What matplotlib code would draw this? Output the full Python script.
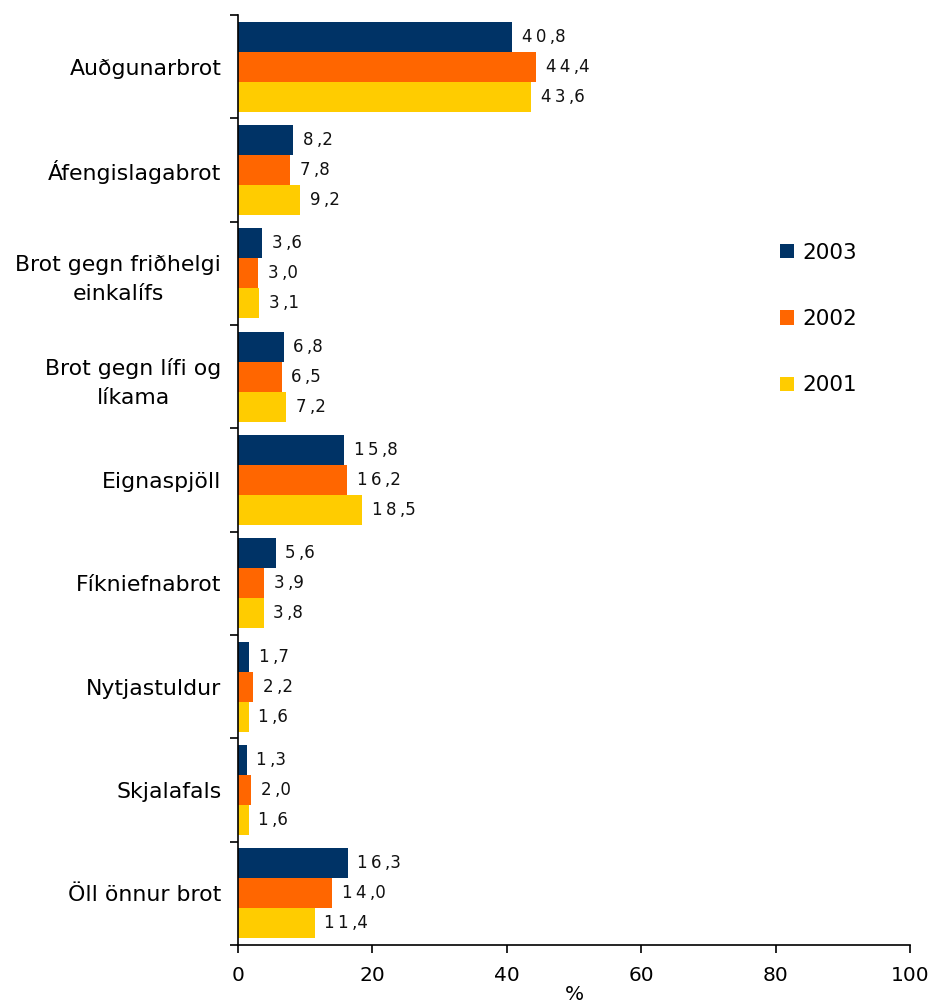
import matplotlib
matplotlib.use("Agg")
import matplotlib.pyplot as plt
from matplotlib.patches import Patch
import numpy as np

categories = ["Auðgunarbrot", "Áfengislagabrot", "Brot gegn friðhelgi\neinkalífs",
              "Brot gegn lífi og\nlíkama", "Eignaspjöll", "Fíkniefnabrot",
              "Nytjastuldur", "Skjalafals", "Öll önnur brot"]
years = ["2003", "2002", "2001"]
v2003 = [40.8, 8.2, 3.6, 6.8, 15.8, 5.6, 1.7, 1.3, 16.3]
v2002 = [44.4, 7.8, 3.0, 6.5, 16.2, 3.9, 2.2, 2.0, 14.0]
v2001 = [43.6, 9.2, 3.1, 7.2, 18.5, 3.8, 1.6, 1.6, 11.4]
colors = ["#003366", "#FF6600", "#FFCC00"]
xticks = [0, 20, 40, 60, 80, 100]

plt.rcParams['font.family'] = ['DejaVu Sans']

fig = plt.figure(figsize=(9.34, 10.08), dpi=100)
ax = fig.add_axes([238/934, 1-945/1008, (910-238)/934, (945-15)/1008])

n = len(categories)
centers = np.arange(n)
bh = 0.29
series = [v2003, v2002, v2001]

def spaced(v):
    s = f"{v:.1f}".replace(".", ",")
    out = ""
    for i, ch in enumerate(s):
        out += ch
        if i < len(s) - 1 and ch != ",":
            out += "\u2009"
    return out

for k, (vals, col) in enumerate(zip(series, colors)):
    ys = centers + (k - 1) * bh
    ax.barh(ys, vals, height=bh, color=col, edgecolor='none', label=years[k])
    for y, v in zip(ys, vals):
        ax.annotate(spaced(v), (v, y), xytext=(7, 0), textcoords='offset points',
                    va='center', ha='left', fontsize=12, color='#111111')

ax.set_ylim(n - 0.5, -0.5)
ax.set_xlim(0, 100)
ax.set_xticks(xticks)
ax.set_xticklabels([str(t) for t in xticks], fontsize=14.5)
ax.set_yticks(np.arange(n + 1) - 0.5)
ax.set_yticklabels([])
ax.set_yticks(centers, minor=True)
ax.set_yticklabels(categories, minor=True, fontsize=15.8, multialignment='center',
                   linespacing=1.55)
ax.tick_params(axis='y', which='minor', length=0, pad=12)
ax.tick_params(axis='y', which='major', length=6, width=1.2, direction='out')
ax.tick_params(axis='x', length=6, width=1.2, direction='out', pad=9)
ax.set_xlabel("%", fontsize=14.5, labelpad=0)
for s in ['top', 'right']:
    ax.spines[s].set_visible(False)
for s in ['left', 'bottom']:
    ax.spines[s].set_linewidth(1.2)

handles = [Patch(facecolor=c, edgecolor='none', label=y) for c, y in zip(colors, years)]
ax.legend(handles=handles, loc='center left', bbox_to_anchor=(0.777, 0.673),
          frameon=False, fontsize=15.5, handlelength=0.65, handleheight=0.65,
          handletextpad=0.4, labelspacing=2.15)

fig.savefig("out.png", dpi=100)
